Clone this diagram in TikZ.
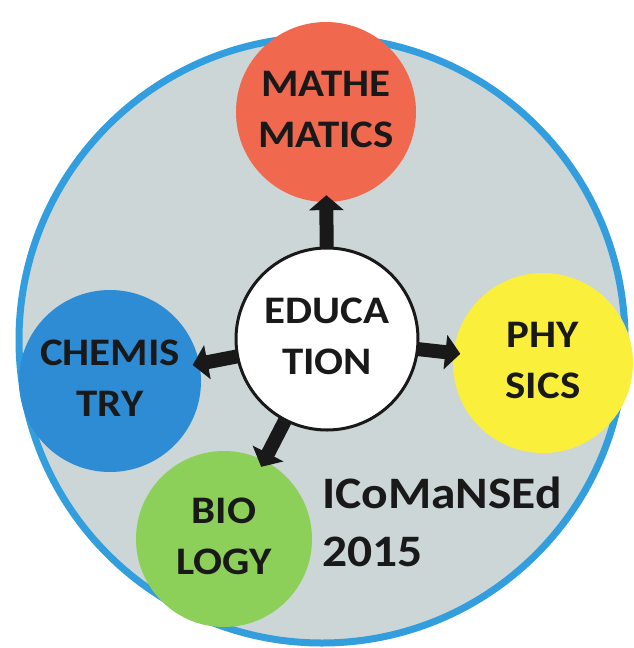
\documentclass[tikz,border=0pt]{standalone}
\usepackage{fontspec}
\setmainfont{Carlito}
\usetikzlibrary{arrows.meta}
\definecolor{rimblue}{RGB}{50,158,222}
\definecolor{bggrey}{RGB}{204,214,214}
\definecolor{mathred}{RGB}{240,104,78}
\definecolor{chemblue}{RGB}{45,140,212}
\definecolor{physyellow}{RGB}{250,240,60}
\definecolor{biogreen}{RGB}{140,208,90}
\definecolor{ink}{RGB}{25,25,25}
\newcommand\subjtext[1]{\scalebox{1.1}[1]{\begin{tabular}{@{}c@{}}#1\end{tabular}}}
\begin{document}
\begin{tikzpicture}[x=1pt,y=-1pt,
  subj/.style={circle, inner sep=0pt, align=center, text=ink,
    font=\bfseries\fontsize{39}{51}\selectfont},
  conftext/.style={anchor=base west, inner sep=0pt, text=ink,
    font=\bfseries\fontsize{45}{58}\selectfont},
  arr/.style={draw=ink, line width=14pt, shorten >=-7pt, shorten <=-2pt,
    -{Triangle[length=15pt,width=34pt]}}]
\useasboundingbox[fill=white] (0,0) rectangle (633,648);
\node[circle, draw=rimblue, line width=7pt, fill=bggrey, minimum size=606pt] (big) at (322,340) {};
\node[subj, fill=mathred, minimum size=180pt] (math) at (326,112) {\subjtext{MATHE\\MATICS}};
\node[subj, fill=physyellow, minimum size=180pt] (phys) at (543,363) {\subjtext{PHY\\SICS}};
\node[subj, fill=chemblue, minimum size=182pt] (chem) at (110,381) {\subjtext{CHEMIS\\TRY}};
\node[subj, fill=biogreen, minimum size=176pt] (bio) at (224,539) {\subjtext{BIO\\LOGY}};
\node[subj, draw=ink, line width=3pt, fill=white, minimum size=182pt] (edu) at (327,339) {\subjtext{EDUCA\\TION}};
\draw[arr] (edu) -- (math);
\draw[arr] (edu) -- (phys);
\draw[arr] (edu) -- (chem);
\draw[arr] (edu) -- (bio);
\node[conftext] (conf) at (322,508) {\scalebox{1.1}[1]{ICoMaNSEd}};
\node[conftext] (year) at (322,566) {\scalebox{1.1}[1]{2015}};
\end{tikzpicture}
\end{document}
